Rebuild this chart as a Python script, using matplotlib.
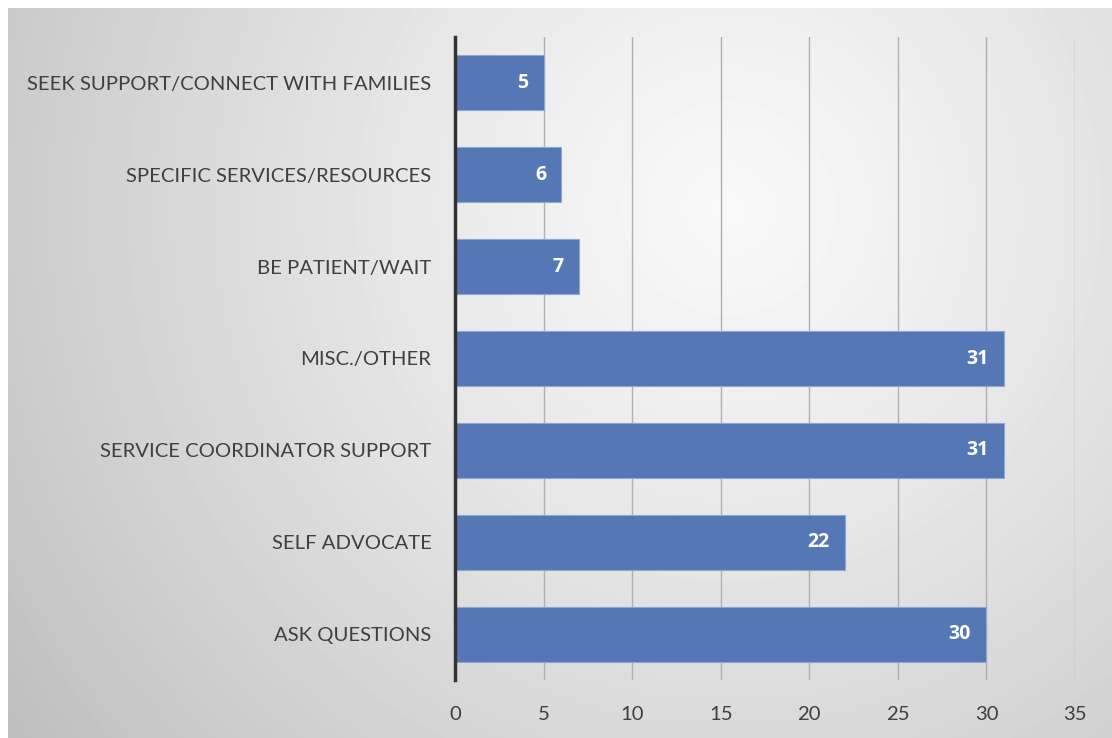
import numpy as np
import matplotlib.pyplot as plt

categories = ["ASK QUESTIONS", "SELF ADVOCATE", "SERVICE COORDINATOR SUPPORT",
              "MISC./OTHER", "BE PATIENT/WAIT", "SPECIFIC SERVICES/RESOURCES",
              "SEEK SUPPORT/CONNECT WITH FAMILIES"]
counts = [30, 22, 31, 31, 7, 6, 5]
xticks = [0, 5, 10, 15, 20, 25, 30, 35]

W, H = 1112, 738
fig = plt.figure(figsize=(W / 100, H / 100), dpi=100)
fig.patch.set_facecolor("white")

# radial grey gradient behind the chart
bg = fig.add_axes([8 / W, 0, 1 - 8 / W, 1 - 8 / H])
bg.set_axis_off()
yy, xx = np.mgrid[0:730, 0:1104]
cx, cy = 720, 200
r = np.sqrt((xx - cx) ** 2 + (yy - cy) ** 2)
r = r / r.max()
shade = 0.975 - 0.23 * np.clip(r, 0, 1) ** 1.2
bg.imshow(shade, cmap="gray", vmin=0, vmax=1, aspect="auto", interpolation="bilinear")

ax = fig.add_axes([455 / W, 1 - 680 / H, (1075 - 455) / W, (680 - 37) / H])
ax.patch.set_alpha(0)
y = np.arange(len(categories))
bars = ax.barh(y, counts, height=0.6, color="#5677b5", edgecolor="#8ea6d6", linewidth=0.8, zorder=3)

for b, v in zip(bars, counts):
    ax.annotate(str(v), (v, b.get_y() + b.get_height() / 2), xytext=(-11, 0),
                textcoords="offset points", ha="right", va="center",
                color="white", fontsize=14, fontweight="bold", family="Open Sans", zorder=4)

ax.set_xlim(0, 35)
ax.set_ylim(-0.5, len(categories) - 0.5)
ax.set_xticks(xticks)
ax.set_yticks(y)
ax.set_yticklabels(categories)
ax.grid(axis="x", color="#b0b0b0", linewidth=1.0, zorder=0)
for s in ["top", "right", "bottom"]:
    ax.spines[s].set_visible(False)
ax.spines["left"].set_color("#333333")
ax.spines["left"].set_linewidth(2.5)
ax.spines["left"].set_zorder(5)
ax.tick_params(axis="both", length=0, labelsize=14.6, labelcolor="#404040")
ax.tick_params(axis="y", pad=17)
ax.tick_params(axis="x", pad=19)
for lab in ax.get_xticklabels() + ax.get_yticklabels():
    lab.set_family("Lato")

fig.savefig("out.png", dpi=100)
